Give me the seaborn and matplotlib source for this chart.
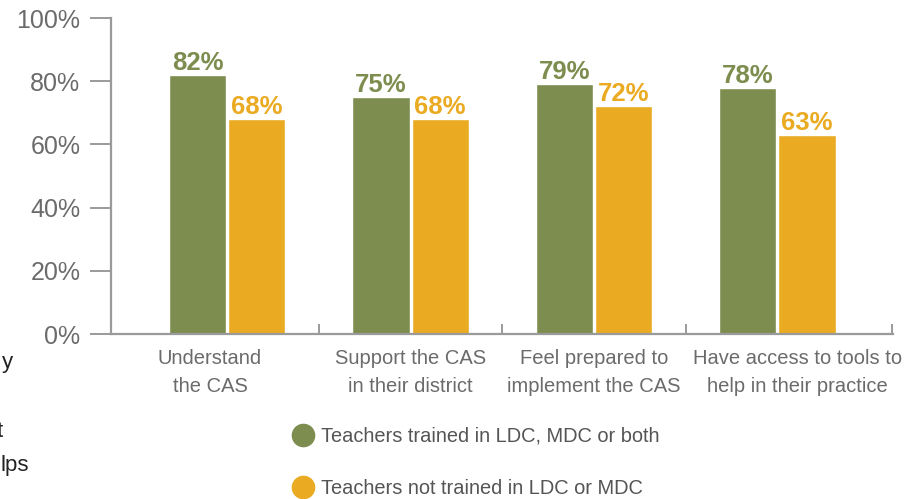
import matplotlib
matplotlib.use("Agg")
import matplotlib.pyplot as plt
import seaborn as sns
import pandas as pd
from matplotlib.lines import Line2D

categories = ["Understand\nthe CAS", "Support the CAS\nin their district",
              "Feel prepared to\nimplement the CAS", "Have access to tools to\nhelp in their practice"]
groups = ["Teachers trained in LDC, MDC or both", "Teachers not trained in LDC or MDC"]
trained = [82, 75, 79, 78]
not_trained = [68, 68, 72, 63]
yticks = [0, 20, 40, 60, 80, 100]
ytick_labels = ["0%", "20%", "40%", "60%", "80%", "100%"]

GREEN = "#7D8D4F"
ORANGE = "#EAAB22"
GRAY_TXT = "#6b6b6b"
SPINE = "#9a9a9a"

df = pd.DataFrame({
    "category": categories * 2,
    "group": [groups[0]] * 4 + [groups[1]] * 4,
    "value": trained + not_trained,
})

sns.set_theme(style="white")
plt.rcParams["font.family"] = ["Liberation Sans", "DejaVu Sans"]

fig = plt.figure(figsize=(9.18, 4.99), dpi=100)
ax = fig.add_axes([111/918, 1-334/499, (893-111)/918, (334-18)/499])

sns.barplot(data=df, x="category", y="value", hue="group", order=categories,
            hue_order=groups, palette=[GREEN, ORANGE], width=0.645, gap=0.035,
            saturation=1, ax=ax, legend=False)

for cont, col in zip(ax.containers, [GREEN, ORANGE]):
    ax.bar_label(cont, fmt="%d%%", padding=0, color=col, fontsize=18.5,
                 fontweight="bold")

ax.set_xlim(-0.633, 3.63)
ax.set_ylim(0, 100)
ax.set_yticks(yticks)
ax.set_yticklabels(ytick_labels)
# category labels sit slightly off the group centres in the original layout
ax.set_xticks([-0.093, 1.0, 2.0, 3.109])
ax.set_xticklabels(categories)
ax.set_xlabel("")
ax.set_ylabel("")

for s in ["top", "right"]:
    ax.spines[s].set_visible(False)
for s in ["left", "bottom"]:
    ax.spines[s].set_color(SPINE)
    ax.spines[s].set_linewidth(1.6)

ax.tick_params(axis="y", which="major", length=15, width=1.4, color=SPINE,
               labelsize=18, labelcolor=GRAY_TXT, pad=7, direction="out", left=True)
ax.tick_params(axis="x", which="major", length=0, labelsize=14.5,
               labelcolor=GRAY_TXT, pad=11)
for lab in ax.get_xticklabels():
    lab.set_linespacing(1.55)

ax.set_xticks([0.5, 1.5, 2.5, 3.625], minor=True)
ax.tick_params(axis="x", which="minor", length=7, width=1.4, color=SPINE,
               direction="in", bottom=True)

handles = [Line2D([0], [0], marker="o", linestyle="", markersize=16,
                  markerfacecolor=c, markeredgecolor=c) for c in [GREEN, ORANGE]]
fig.legend(handles, groups, loc="upper left", bbox_to_anchor=(285/918, 1-419/499),
           frameon=False, fontsize=14.4, labelcolor="#555555", handletextpad=0.4,
           labelspacing=1.65, handlelength=1.0, borderaxespad=0)

# cut-off text fragments from neighbouring column at left edge
fig.text(13/918, 1-368/499, "y", ha="right", va="baseline", fontsize=16, color="#222222")
fig.text(3/918, 1-437/499, "t", ha="right", va="baseline", fontsize=16, color="#222222")
fig.text(0/918, 1-471/499, "lps", ha="left", va="baseline", fontsize=16, color="#222222")

fig.savefig("out.png", dpi=100)
